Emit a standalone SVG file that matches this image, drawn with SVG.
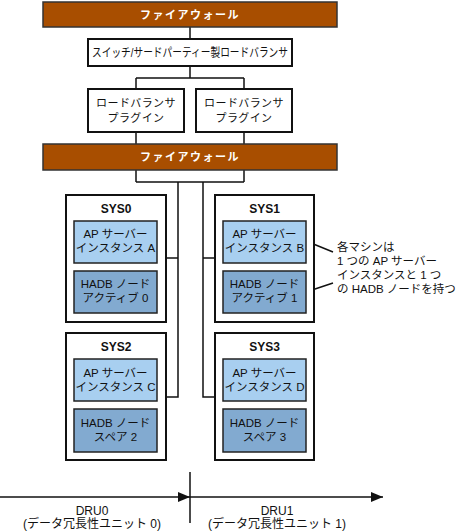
<svg xmlns="http://www.w3.org/2000/svg" width="459" height="531" viewBox="0 0 459 531">
<defs>
<style>
text{font-family:"Liberation Sans","Noto Sans CJK JP",sans-serif;fill:#111;text-anchor:middle}
.fw{fill:#A84E00;stroke:#333;stroke-width:1.5}
.fwt{fill:#fff;font-weight:bold;font-size:11px;letter-spacing:1.5px}
.box{fill:#fff;stroke:#111;stroke-width:2}
.ap{fill:#A8CFF0;stroke:#222;stroke-width:1.5}
.hadb{fill:#82AAD0;stroke:#222;stroke-width:1.5}
.t{font-size:11.5px}
.sys{font-size:12px;font-weight:bold}
.ln{fill:none;stroke:#111;stroke-width:1.5}
.note{text-anchor:start;font-size:11.5px}
</style>
<marker id="ah" viewBox="0 0 12 10" refX="12" refY="5" markerWidth="12" markerHeight="10" markerUnits="userSpaceOnUse" orient="auto">
<path d="M0,0 L12,5 L0,10 Z" fill="#111"/>
</marker>
</defs>
<g id="connectors">
<path class="ln" d="M190,27 V39"/>
<path class="ln" d="M190,66 V78 M136,78 H244 M136,78 V89 M244,78 V89"/>
<path class="ln" d="M136,132 V144 M244,132 V144"/>
<path class="ln" d="M136,170 V182 M244,170 V182 M136,182 H244"/>
<path class="ln" d="M178,182 V397 H167 M178,258 H167"/>
<path class="ln" d="M203,182 V397 H215 M203,258 H215"/>
<path class="ln" d="M306,241 L333,252 M306,292 L333,283" stroke-width="1.2"/>
<path class="ln" d="M0,497 H190" marker-end="url(#ah)"/>
<path class="ln" d="M190,497 H383" marker-end="url(#ah)"/>
<path class="ln" d="M190,472 V523"/>
</g>
<g id="firewall1">
<rect class="fw" x="43" y="2" width="294" height="25"/>
<text class="fwt" x="190" y="19">ファイアウォール</text>
</g>
<g id="switch">
<rect class="box" x="88" y="39" width="204" height="27"/>
<text x="190" y="57" font-size="12" textLength="196" lengthAdjust="spacingAndGlyphs">スイッチ/サードパーティー製ロードバランサ</text>
</g>
<g id="plugin1">
<rect class="box" x="88" y="89" width="96" height="43"/>
<text x="136" y="107" font-size="11" letter-spacing="0.4">ロードバランサ</text>
<text x="136" y="122" font-size="11" letter-spacing="0.4">プラグイン</text>
</g>
<g id="plugin2">
<rect class="box" x="196" y="89" width="96" height="43"/>
<text x="244" y="107" font-size="11" letter-spacing="0.4">ロードバランサ</text>
<text x="244" y="122" font-size="11" letter-spacing="0.4">プラグイン</text>
</g>
<g id="firewall2">
<rect class="fw" x="43" y="144" width="294" height="26"/>
<text class="fwt" x="190" y="161">ファイアウォール</text>
</g>
<g id="sys0">
<rect class="box" x="66" y="195" width="100" height="127"/>
<text class="sys" x="116" y="213">SYS0</text>
<rect class="ap" x="74" y="221" width="83" height="42"/>
<text class="t" x="115.5" y="238">AP サーバー</text>
<text class="t" x="115.5" y="252">インスタンス A</text>
<rect class="hadb" x="74" y="271" width="83" height="42"/>
<text class="t" x="115.5" y="288">HADB ノード</text>
<text class="t" x="115.5" y="302">アクティブ 0</text>
</g>
<g id="sys1">
<rect class="box" x="215" y="195" width="99" height="127"/>
<text class="sys" x="264.5" y="213">SYS1</text>
<rect class="ap" x="223" y="221" width="83" height="42"/>
<text class="t" x="264.5" y="238">AP サーバー</text>
<text class="t" x="264.5" y="252">インスタンス B</text>
<rect class="hadb" x="223" y="271" width="83" height="42"/>
<text class="t" x="264.5" y="288">HADB ノード</text>
<text class="t" x="264.5" y="302">アクティブ 1</text>
</g>
<g id="sys2">
<rect class="box" x="66" y="333" width="100" height="127"/>
<text class="sys" x="116" y="351">SYS2</text>
<rect class="ap" x="74" y="359" width="83" height="42"/>
<text class="t" x="115.5" y="377">AP サーバー</text>
<text class="t" x="115.5" y="391">インスタンス C</text>
<rect class="hadb" x="74" y="409" width="83" height="43"/>
<text class="t" x="115.5" y="427">HADB ノード</text>
<text class="t" x="115.5" y="441">スペア 2</text>
</g>
<g id="sys3">
<rect class="box" x="215" y="333" width="99" height="127"/>
<text class="sys" x="264.5" y="351">SYS3</text>
<rect class="ap" x="223" y="359" width="83" height="42"/>
<text class="t" x="264.5" y="377">AP サーバー</text>
<text class="t" x="264.5" y="391">インスタンス D</text>
<rect class="hadb" x="223" y="409" width="83" height="43"/>
<text class="t" x="264.5" y="427">HADB ノード</text>
<text class="t" x="264.5" y="441">スペア 3</text>
</g>
<g id="note">
<text class="note" x="337" y="251">各マシンは</text>
<text class="note" x="337" y="265">1 つの AP サーバー</text>
<text class="note" x="337" y="279">インスタンスと 1 つ</text>
<text class="note" x="337" y="293">の HADB ノードを持つ</text>
</g>
<g id="dru0">
<text x="92" y="515" font-size="12">DRU0</text>
<text x="92" y="528" font-size="12">(データ冗長性ユニット 0)</text>
</g>
<g id="dru1">
<text x="277" y="515" font-size="12">DRU1</text>
<text x="277" y="528" font-size="12">(データ冗長性ユニット 1)</text>
</g>
</svg>
